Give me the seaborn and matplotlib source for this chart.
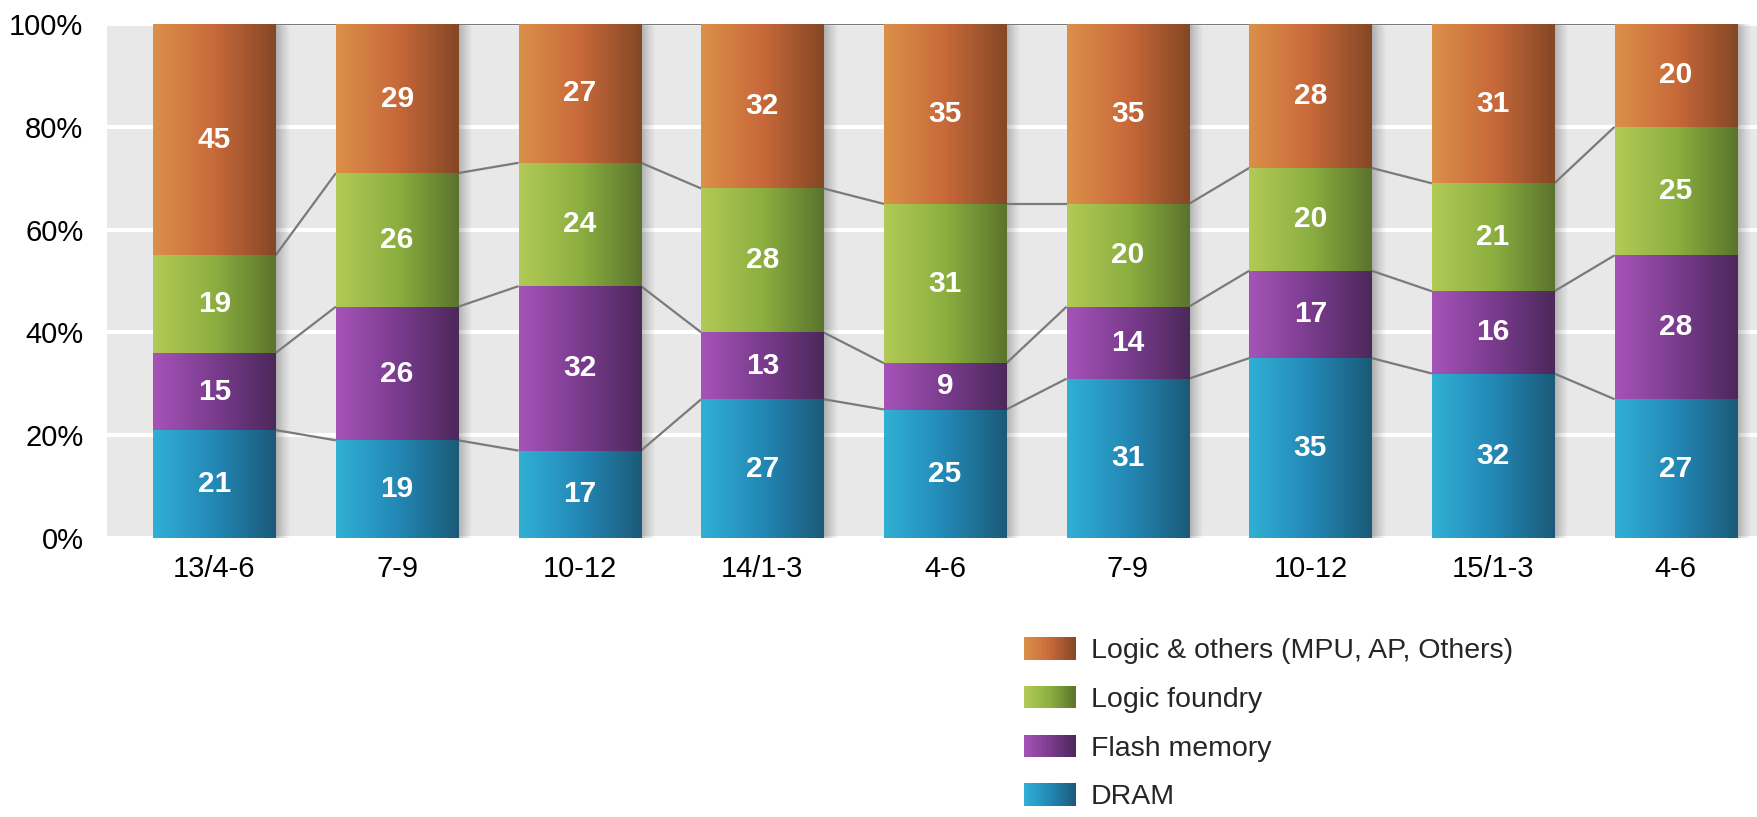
import numpy as np
import matplotlib
matplotlib.use("Agg")
import matplotlib.pyplot as plt
import seaborn as sns
from matplotlib.colors import LinearSegmentedColormap
from matplotlib.legend_handler import HandlerBase
from matplotlib.patches import Rectangle

# Quarterly share (%) by product segment
quarters = ["13/4-6", "7-9", "10-12", "14/1-3", "4-6", "7-9", "10-12", "15/1-3", "4-6"]
dram = [21, 19, 17, 27, 25, 31, 35, 32, 27]
flash = [15, 26, 32, 13, 9, 14, 17, 16, 28]
foundry = [19, 26, 24, 28, 31, 20, 20, 21, 25]
logic = [45, 29, 27, 32, 35, 35, 28, 31, 20]

series_names = ["DRAM", "Flash memory", "Logic foundry", "Logic & others (MPU, AP, Others)"]
gradient_colors = [
    ["#30B0D4", "#2388B6", "#1B5A78"],
    ["#A653B8", "#7A3C8E", "#4C285A"],
    ["#B2CA56", "#8CAF40", "#5A742C"],
    ["#DB9049", "#C8693A", "#844725"],
]
cmaps = [LinearSegmentedColormap.from_list(f"g{i}", c) for i, c in enumerate(gradient_colors)]

sns.set_theme(style="white")
plt.rcParams["font.family"] = ["Liberation Sans", "DejaVu Sans"]

W, H = 1758, 817
fig = plt.figure(figsize=(W / 100, H / 100), dpi=100)
ax = fig.add_axes([107 / W, 1 - 538 / H, 1 - 107 / W, (538 - 24) / H])
ax.set_facecolor("#E8E8E8")

values = np.array([dram, flash, foundry, logic], dtype=float)
tops = np.cumsum(values, axis=0)
bottoms = tops - values
pos = np.arange(len(quarters))
bar_width = 0.67

# Stack by overdrawing cumulative totals, tallest first
layer_patches = {}
for k in range(3, -1, -1):
    n_before = len(ax.patches)
    sns.barplot(x=pos, y=tops[k], width=bar_width, color="white", ax=ax)
    layer_patches[k] = ax.patches[n_before:]

grad = np.linspace(0, 1, 256).reshape(1, -1)
for k in range(3, -1, -1):
    z = 4 + (3 - k)
    for p in layer_patches[k]:
        x0, w, h = p.get_x(), p.get_width(), p.get_height()
        p.set_facecolor("none")
        p.set_edgecolor("none")
        p.set_zorder(z + 0.1)
        im = ax.imshow(grad, extent=[x0, x0 + w, 0, h], aspect="auto",
                       cmap=cmaps[k], interpolation="bicubic", zorder=z)
        im.set_clip_path(p)

# Soft shadow on the right side of each column
shadow = np.zeros((1, 64, 4))
shadow[..., 3] = np.linspace(0.32, 0.0, 64) ** 1.2
for p in layer_patches[3]:
    x1 = p.get_x() + p.get_width()
    ax.imshow(shadow, extent=[x1, x1 + 0.08, 0, p.get_height()], aspect="auto",
              interpolation="bicubic", zorder=2)

# Connector lines between segment boundaries of neighbouring columns
half = bar_width / 2
for k in range(4):
    for i in range(len(pos) - 1):
        ax.plot([pos[i] + half, pos[i + 1] - half], [tops[k][i], tops[k][i + 1]],
                color="#7A7A7A", lw=1.6, zorder=3, solid_capstyle="butt")

# Value labels
for k in range(4):
    for i in range(len(pos)):
        ax.text(pos[i], bottoms[k][i] + values[k][i] / 2, f"{int(values[k][i])}",
                ha="center", va="center", color="white", fontsize=21.5,
                fontweight="bold", zorder=10)

ax.set_xlim(-0.588, 8.45)
ax.set_ylim(0, 100)
yt = [0, 20, 40, 60, 80, 100]
ax.set_yticks(yt)
ax.set_yticklabels([f"{v}%" for v in yt])
ax.set_xticks(pos)
ax.set_xticklabels(quarters)
ax.set_xlabel("")
ax.set_ylabel("")
ax.yaxis.grid(True, color="white", lw=3)
ax.xaxis.grid(False)
ax.set_axisbelow(True)
ax.tick_params(axis="y", length=0, pad=17, labelsize=21, labelcolor="black")
ax.tick_params(axis="x", length=0, pad=12, labelsize=21, labelcolor="black")
for s in ax.spines.values():
    s.set_visible(False)


class GradientHandler(HandlerBase):
    def __init__(self, cmap, n=40):
        super().__init__()
        self.cmap = cmap
        self.n = n

    def create_artists(self, legend, orig_handle, xdescent, ydescent, width, height, fontsize, trans):
        arts = []
        for j in range(self.n):
            arts.append(Rectangle((-xdescent + width * j / self.n, -ydescent),
                                  width / self.n * 1.05, height,
                                  facecolor=self.cmap((j + 0.5) / self.n),
                                  edgecolor="none", transform=trans))
        return arts


handles, labels, hmap = [], [], {}
for k in range(3, -1, -1):
    h = Rectangle((0, 0), 1, 1)
    handles.append(h)
    labels.append(series_names[k])
    hmap[h] = GradientHandler(cmaps[k])

fig.legend(handles, labels, handler_map=hmap, loc="upper left",
           bbox_to_anchor=(1024 / W, 1 - 637 / H), frameon=False, fontsize=20.5,
           handlelength=1.82, handleheight=0.84, handletextpad=0.52,
           labelspacing=0.76, borderpad=0, borderaxespad=0)

fig.savefig("out.png", dpi=100)
